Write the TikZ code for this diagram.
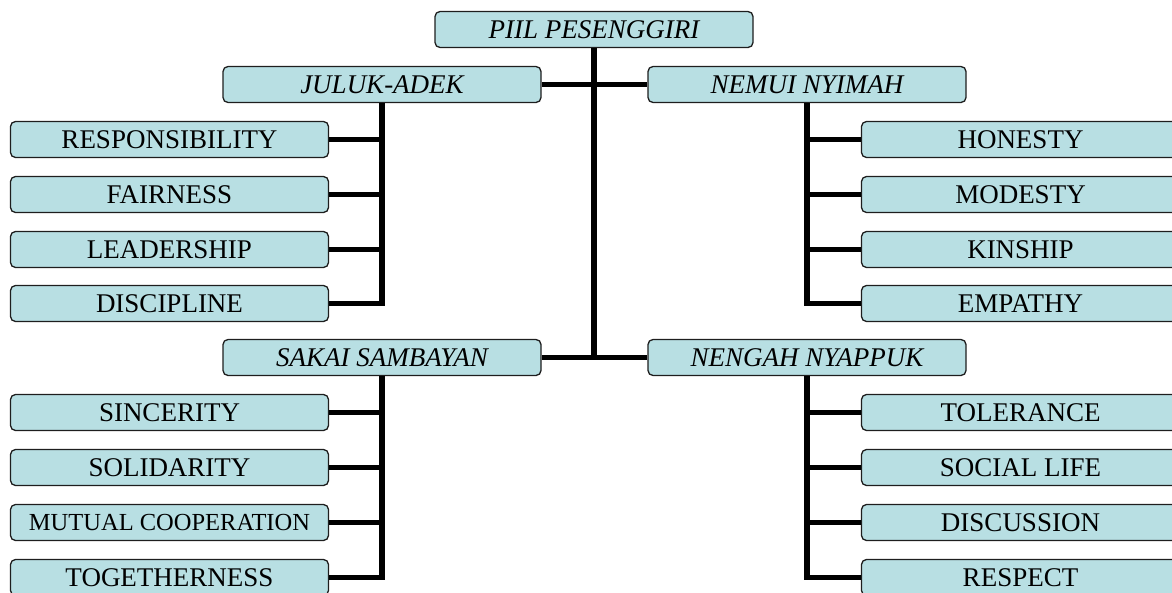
\documentclass[tikz,border=0pt]{standalone}
\usepackage{fontspec}
\setmainfont{Liberation Serif}
\definecolor{boxfill}{RGB}{184,223,227}
\definecolor{boxline}{RGB}{30,30,30}
\begin{document}
\begin{tikzpicture}[x=1pt,y=-1pt,
  box/.style={draw=boxline,line width=1.3pt,fill=boxfill,rounded corners=5pt,
    minimum width=318pt,minimum height=36pt,inner sep=0pt,
    font=\fontsize{27}{30}\selectfont,text height=18pt,text depth=0pt,yshift=-1.5pt},
  head/.style={box,font=\fontsize{27}{30}\selectfont\itshape},
  small/.style={box,font=\fontsize{24.5}{28}\selectfont,text height=16.5pt},
  link/.style={line width=5.5pt,line join=miter},
  trunk/.style={line width=6.5pt}]
\useasboundingbox (0,0) rectangle (1172,592);
\node[head] (root) at (594,28) {PIIL PESENGGIRI};
\node[head] (juluk) at (382,83) {JULUK-ADEK};
\node[head] (nemui) at (807,83) {NEMUI NYIMAH};
\node[head] (sakai) at (382,356) {SAKAI SAMBAYAN};
\node[head] (nengah) at (807,356) {NENGAH NYAPPUK};
% left top
\node[box] (l1) at (169.5,138) {RESPONSIBILITY};
\node[box] (l2) at (169.5,193) {FAIRNESS};
\node[box] (l3) at (169.5,248) {LEADERSHIP};
\node[box] (l4) at (169.5,302) {DISCIPLINE};
% right top
\node[box] (r1) at (1020.5,138) {HONESTY};
\node[box] (r2) at (1020.5,193) {MODESTY};
\node[box] (r3) at (1020.5,248) {KINSHIP};
\node[box] (r4) at (1020.5,302) {EMPATHY};
% left bottom
\node[box] (m1) at (169.5,411) {SINCERITY};
\node[box] (m2) at (169.5,466) {SOLIDARITY};
\node[small] (m3) at (169.5,521) {MUTUAL COOPERATION};
\node[box] (m4) at (169.5,576) {TOGETHERNESS};
% right bottom
\node[box] (n1) at (1020.5,411) {TOLERANCE};
\node[box] (n2) at (1020.5,466) {SOCIAL LIFE};
\node[box] (n3) at (1020.5,521) {DISCUSSION};
\node[box] (n4) at (1020.5,576) {RESPECT};
% connectors
\draw[trunk] (root.south) -- (root.south |- sakai.east);
\draw[link] (juluk.east) -- (nemui.west);
\draw[link] (sakai.east) -- (nengah.west);
\draw[link] (juluk.south) |- (l4.east);
\foreach \c in {l1,l2,l3} \draw[link] (juluk.south |- \c.east) -- (\c.east);
\draw[link] (nemui.south) |- (r4.west);
\foreach \c in {r1,r2,r3} \draw[link] (nemui.south |- \c.west) -- (\c.west);
\draw[link] (sakai.south) |- (m4.east);
\foreach \c in {m1,m2,m3} \draw[link] (sakai.south |- \c.east) -- (\c.east);
\draw[link] (nengah.south) |- (n4.west);
\foreach \c in {n1,n2,n3} \draw[link] (nengah.south |- \c.west) -- (\c.west);
\end{tikzpicture}
\end{document}
